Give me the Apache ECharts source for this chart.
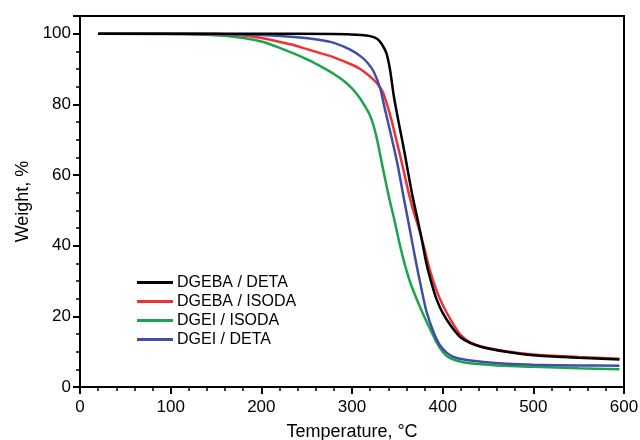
<!DOCTYPE html>
<html>
<head>
<meta charset="utf-8">
<script src="https://cdn.jsdelivr.net/npm/echarts@6/dist/echarts.min.js"></script>
<style>html,body{margin:0;padding:0;background:#fff}#c{width:640px;height:440px}</style>
</head>
<body>
<div id="c"></div>
<script>
const seriesNames = ['DGEBA / DETA', 'DGEBA / ISODA', 'DGEI / ISODA', 'DGEI / DETA'];
const xTicks = [0, 100, 200, 300, 400, 500, 600];
const yTicks = [0, 20, 40, 60, 80, 100];

const dgebaDetaT = [20,100,200,280,310,320,328,333,338,342,346,351,356,361,366,371,376,382,387,393,400,410,420,430,445,470,500,550,595];
const dgebaDetaW = [100,100,100,99.9,99.6,99.3,98.5,97,94.4,89.7,82.5,75.5,69,62,55,49,43,35,30,25,21,17,14,12.5,11.2,10,9.0,8.3,7.8];

const dgebaIsodaT = [20,150,180,200,232,243,265,280,300,309,318,324,329,334,338,342,346,350,354,358,362,367,373,379,386,393,400,410,419,430,445,470,500,550,595];
const dgebaIsodaW = [100,99.9,99.5,98.8,97,96.2,94.5,93.3,91.2,90.0,88.3,86.9,85.5,83.5,80.5,77,73,68.8,64.5,60,55.5,50.5,45.5,40,33,27.5,23.3,18.5,15,12.7,11.3,10.1,9.2,8.5,8.0];

const dgeiIsodaT = [20,120,160,200,230,250,265,280,290,300,308,314,320,324,328,332,336,341,347,353,359,365,372,379,386,393,400,406,415,430,460,500,550,595];
const dgeiIsodaW = [100,99.8,99.4,97.8,95,92.8,90.8,88.6,86.8,84.5,82,79.6,76.8,73.8,69.6,64.5,59.5,53.5,47,40,34,29,24.5,20.3,16.5,12.8,10,8.5,7.5,6.7,6.1,5.7,5.3,5.0];

const dgeiDetaT = [20,150,200,243,265,280,298,310,318,324,331,336,341,346,351,356,361,366,371,376,382,390,397,405,412,425,445,470,500,550,595];
const dgeiDetaW = [100,99.9,99.6,98.9,98.2,97.4,95.5,93.5,91.5,89.2,84.6,79,73.5,68,62,55,48.3,41.5,34.8,28.5,21.5,15.5,11.8,9.6,8.5,7.7,7.1,6.6,6.3,6.1,6.0];

const colors = ['#000000', '#ee3134', '#1aa54a', '#3f4fa8'];
const zip = (a, b) => a.map((v, i) => [v, b[i]]);
const allData = [
  zip(dgebaDetaT, dgebaDetaW),
  zip(dgebaIsodaT, dgebaIsodaW),
  zip(dgeiIsodaT, dgeiIsodaW),
  zip(dgeiDetaT, dgeiDetaW)
];
const drawOrder = [2, 1, 3, 0];

const chart = echarts.init(document.getElementById('c'), null, {renderer: 'canvas'});
const font = 'Liberation Sans, Arial, sans-serif';
chart.setOption({
  animation: false,
  backgroundColor: '#fff',
  color: colors,
  grid: {left: 80, right: 16, top: 16, bottom: 53, containLabel: false, outerBoundsMode: 'none',
    show: true, borderColor: '#000', borderWidth: 2, backgroundColor: 'transparent'},
  legend: {
    orient: 'vertical', left: 137, top: 273, padding: 0, itemGap: 0, itemWidth: 36, itemHeight: 3,
    icon: 'rect',
    data: seriesNames,
    textStyle: {fontFamily: font, fontSize: 16, color: '#000', lineHeight: 19, padding: [0, 0, 0, -1]}
  },
  xAxis: {
    type: 'value', min: xTicks[0], max: xTicks[xTicks.length - 1], interval: 100,
    name: 'Temperature, °C', nameLocation: 'middle', nameGap: 36,
    nameTextStyle: {fontFamily: font, fontSize: 18, color: '#000'},
    axisLine: {show: true, lineStyle: {color: '#000', width: 2}},
    axisTick: {show: true, length: 7, lineStyle: {color: '#000', width: 2}},
    minorTick: {show: true, splitNumber: 5, length: 4, lineStyle: {color: '#000', width: 1.5}},
    splitLine: {show: false},
    axisLabel: {fontFamily: font, fontSize: 17, color: '#000', margin: 12}
  },
  yAxis: {
    type: 'value', min: yTicks[0], max: 105, interval: 20,
    name: 'Weight, %', nameLocation: 'middle', nameGap: 48,
    nameTextStyle: {fontFamily: font, fontSize: 18, color: '#000'},
    axisLine: {show: true, lineStyle: {color: '#000', width: 2}},
    axisTick: {show: true, length: 7, lineStyle: {color: '#000', width: 2}},
    minorTick: {show: true, splitNumber: 4, length: 4, lineStyle: {color: '#000', width: 1.5}},
    splitLine: {show: false},
    axisLabel: {fontFamily: font, fontSize: 17, color: '#000', margin: 9,
      formatter: v => (yTicks.indexOf(v) >= 0 ? String(v) : '')}
  },
  series: drawOrder.map(i => ({
    name: seriesNames[i], type: 'line', data: allData[i],
    smooth: 0.3, showSymbol: false, symbol: 'none',
    lineStyle: {color: colors[i], width: 2.5},
    itemStyle: {color: colors[i]}
  }))
});
</script>
</body>
</html>
